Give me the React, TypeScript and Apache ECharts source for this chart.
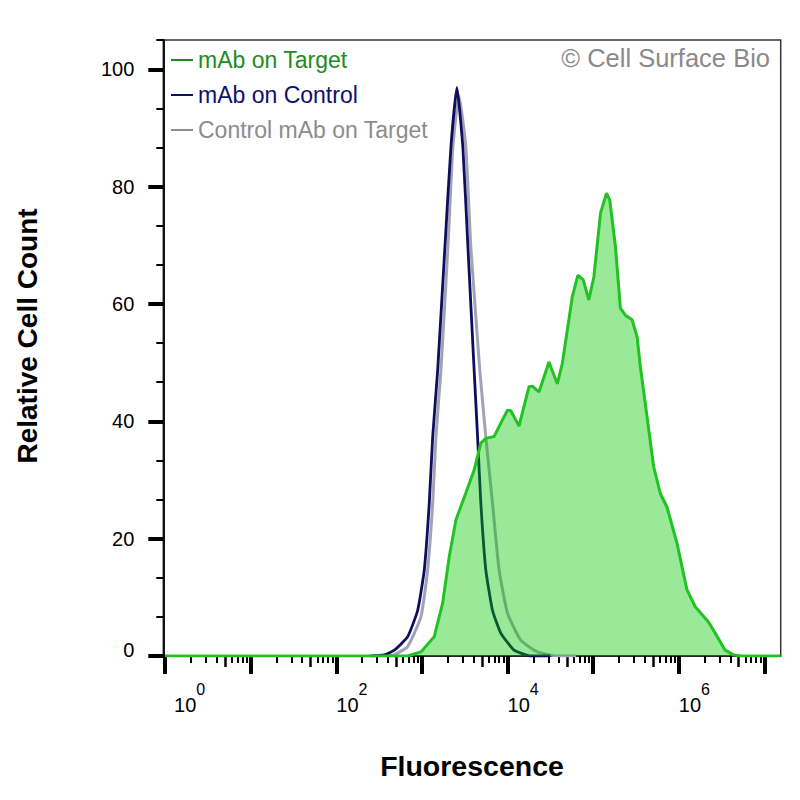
import React, { useEffect, useRef } from "react";
import * as echarts from "echarts";

// x values are log10(fluorescence); y values are relative cell count
const greenX = [0, 2.6, 2.834, 2.989, 3.144, 3.242, 3.319, 3.397, 3.513, 3.61, 3.688, 3.746, 3.843, 3.921, 3.999, 4.038, 4.134, 4.251, 4.29, 4.367, 4.484, 4.581, 4.64, 4.756, 4.821, 4.884, 4.949, 5.008, 5.086, 5.156, 5.194, 5.26, 5.318, 5.376, 5.455, 5.513, 5.551, 5.629, 5.706, 5.784, 5.862, 5.979, 6.095, 6.192, 6.347, 6.425, 6.541, 6.638, 6.72, 7.19];
const greenY = [0, 0, 0, 0.7, 3.3, 9.0, 16.9, 23.2, 27.8, 31.7, 36.3, 37.1, 37.4, 39.7, 41.9, 41.8, 39.2, 45.9, 46.0, 45.0, 50.1, 46.4, 49.9, 61.2, 64.9, 64.1, 60.7, 64.6, 75.5, 78.9, 77.7, 69.8, 59.3, 58.1, 57.3, 54.4, 49.3, 40.8, 32.3, 27.7, 25.4, 19.2, 11.3, 8.4, 5.8, 3.9, 1.0, 0.2, 0, 0];

const blueX = [2.4, 2.562, 2.678, 2.834, 2.951, 3.028, 3.086, 3.126, 3.184, 3.269, 3.339, 3.409, 3.478, 3.537, 3.61, 3.65, 3.688, 3.746, 3.824, 3.921, 4.076, 4.27, 4.5];
const blueY = [0, 0.2, 1.0, 3.3, 7.8, 14.7, 26.1, 37.4, 48.7, 69.8, 86.8, 96.9, 86.8, 69.8, 48.7, 37.4, 26.1, 14.7, 7.8, 3.9, 1.0, 0, 0];

const grayX = [2.5, 2.675, 2.834, 2.989, 3.067, 3.126, 3.164, 3.222, 3.304, 3.362, 3.432, 3.513, 3.571, 3.676, 3.746, 3.824, 3.901, 3.999, 4.154, 4.348, 4.581, 4.8];
const grayY = [0, 0.2, 1.6, 6.7, 14.7, 26.1, 37.4, 48.7, 69.8, 86.8, 95.6, 86.8, 69.8, 48.7, 37.4, 26.1, 14.7, 7.3, 2.7, 0.7, 0, 0];

const seriesNames = ["mAb on Target", "mAb on Control", "Control mAb on Target"];
const xDecades = [0, 1, 2, 3, 4, 5, 6, 7];
const xLabelExponents = [0, 2, 4, 6];
const yMajorTicks = [0, 20, 40, 60, 80, 100];
const yLabels = [0, 20, 40, 60, 80, 100];

const FONT = '"Liberation Sans", Arial, Helvetica, sans-serif';

export default function App() {
  const ref = useRef<HTMLDivElement>(null);

  useEffect(() => {
    const chart = echarts.init(ref.current as HTMLDivElement, null, { renderer: "svg" });

    const xFive: number[] = [];
    const xMinor: number[] = [];
    for (let d = 0; d < 7; d++) {
      xFive.push(d + Math.log10(5));
      [2, 3, 4, 6, 7, 8, 9].forEach((k) => xMinor.push(d + Math.log10(k)));
    }
    const yMinor: number[] = [];
    for (let i = 1; i < 16; i++) {
      if (i % 3 !== 0) yMinor.push((i * 20) / 3);
    }
    yMinor.push(105);

    const xMin = -0.02;
    const xMax = 7.19;

    const baseX = {
      type: "value" as const,
      min: xMin,
      max: xMax,
      position: "bottom" as const,
      gridIndex: 0,
      splitLine: { show: false },
    };
    const baseY = {
      type: "value" as const,
      min: 0,
      max: 105,
      position: "left" as const,
      gridIndex: 0,
      splitLine: { show: false },
    };

    const option: any = {
      animation: false,
      backgroundColor: "#ffffff",
      textStyle: { fontFamily: FONT },
      grid: {
        left: 163.3,
        right: 19.3,
        top: 40,
        bottom: 144,
        show: true,
        borderColor: "#333333",
        borderWidth: 1.5,
      },
      legend: {
        orient: "vertical",
        left: 171,
        top: 48.5,
        padding: 0,
        itemWidth: 22,
        itemHeight: 2,
        itemGap: 12,
        icon: "rect",
        selectedMode: false,
        textStyle: { fontSize: 23, fontFamily: FONT },
        data: [
          { name: seriesNames[0], textStyle: { color: "#228b22" }, itemStyle: { color: "#228b22" } },
          { name: seriesNames[1], textStyle: { color: "#10106a" }, itemStyle: { color: "#10106a" } },
          { name: seriesNames[2], textStyle: { color: "#8c8c8c" }, itemStyle: { color: "#8c8c8c" } },
        ],
      },
      xAxis: [
        {
          ...baseX,
          name: "Fluorescence",
          nameLocation: "middle",
          nameGap: 95,
          nameTextStyle: { fontSize: 28.5, fontWeight: "bold", color: "#000", fontFamily: FONT },
          axisLine: { show: true, onZero: false, lineStyle: { color: "#111", width: 1.5 } },
          axisTick: { show: true, customValues: xDecades, length: 18, lineStyle: { color: "#000", width: 4 } },
          axisLabel: {
            show: true,
            customValues: xLabelExponents,
            margin: 25,
            align: "left",
            verticalAlign: "top",
            color: "#000",
            formatter: (v: number) => (Math.round(v) === 0 ? `{b0|10}{s|0}` : `{b|10}{s|${Math.round(v)}}`),
            rich: {
              b: { fontSize: 20, lineHeight: 34, verticalAlign: "bottom", color: "#000", fontFamily: FONT },
              b0: { fontSize: 20, lineHeight: 34, verticalAlign: "bottom", color: "#000", fontFamily: FONT, padding: [0, 0, 0, 9] },
              s: { fontSize: 16, lineHeight: 34, verticalAlign: "top", color: "#000", fontFamily: FONT },
            },
          },
        },
        {
          ...baseX,
          axisLine: { show: false, onZero: false },
          axisLabel: { show: false },
          axisTick: { show: true, customValues: xFive, length: 11, lineStyle: { color: "#000", width: 2.5 } },
        },
        {
          ...baseX,
          axisLine: { show: false, onZero: false },
          axisLabel: { show: false },
          axisTick: { show: true, customValues: xMinor, length: 7, lineStyle: { color: "#000", width: 2 } },
        },
      ],
      yAxis: [
        {
          ...baseY,
          axisLine: { show: true, onZero: false, lineStyle: { color: "#111", width: 2 } },
          axisTick: { show: true, customValues: yMajorTicks, length: 15, lineStyle: { color: "#000", width: 4 } },
          axisLabel: {
            show: true,
            customValues: yLabels,
            margin: 29,
            fontSize: 20,
            color: "#000",
            fontFamily: FONT,
            formatter: (v: number) => (v === 0 ? "{z|0}" : String(v)),
            rich: {
              z: { fontSize: 20, color: "#000", fontFamily: FONT, padding: [0, 0, 12, 0] },
            },
          },
        },
        {
          ...baseY,
          axisLine: { show: false, onZero: false },
          axisLabel: { show: false },
          axisTick: { show: true, customValues: yMinor, length: 7, lineStyle: { color: "#000", width: 2 } },
        },
      ],
      graphic: [
        {
          type: "text",
          x: 770,
          y: 58,
          style: {
            text: "© Cell Surface Bio",
            fill: "#8a8a8a",
            font: `25.5px ${FONT}`,
            textAlign: "right",
            textVerticalAlign: "middle",
            align: "right",
            verticalAlign: "middle",
          },
        },
        {
          type: "text",
          x: 27,
          y: 336,
          rotation: Math.PI / 2,
          style: {
            text: "Relative Cell Count",
            fill: "#000",
            font: `bold 28px ${FONT}`,
            textAlign: "center",
            textVerticalAlign: "middle",
            align: "center",
            verticalAlign: "middle",
          },
        },
      ],
      series: [
        {
          name: seriesNames[2],
          type: "line",
          xAxisIndex: 0,
          yAxisIndex: 0,
          symbol: "none",
          smooth: 0.15,
          data: grayX.map((x, i) => [x, grayY[i]]),
          lineStyle: { color: "#a2a2b6", width: 3 },
          itemStyle: { color: "#a2a2b6" },
          z: 2,
        },
        {
          name: seriesNames[1],
          type: "line",
          xAxisIndex: 0,
          yAxisIndex: 0,
          symbol: "none",
          smooth: 0.15,
          data: blueX.map((x, i) => [x, blueY[i]]),
          lineStyle: { color: "#0e0e5c", width: 2.8 },
          itemStyle: { color: "#0e0e5c" },
          z: 3,
        },
        {
          name: seriesNames[0],
          type: "line",
          xAxisIndex: 0,
          yAxisIndex: 0,
          symbol: "none",
          data: greenX.map((x, i) => [x, greenY[i]]),
          lineStyle: { color: "#22c222", width: 3 },
          itemStyle: { color: "#22c222" },
          areaStyle: { color: "rgb(0,200,0)", opacity: 0.4, origin: "start" },
          z: 4,
        },
      ],
    };

    chart.setOption(option);
    return () => chart.dispose();
  }, []);

  return (
    <div
      ref={ref}
      style={{ position: "absolute", left: 0, top: 0, width: 800, height: 800, background: "#ffffff" }}
    />
  );
}
